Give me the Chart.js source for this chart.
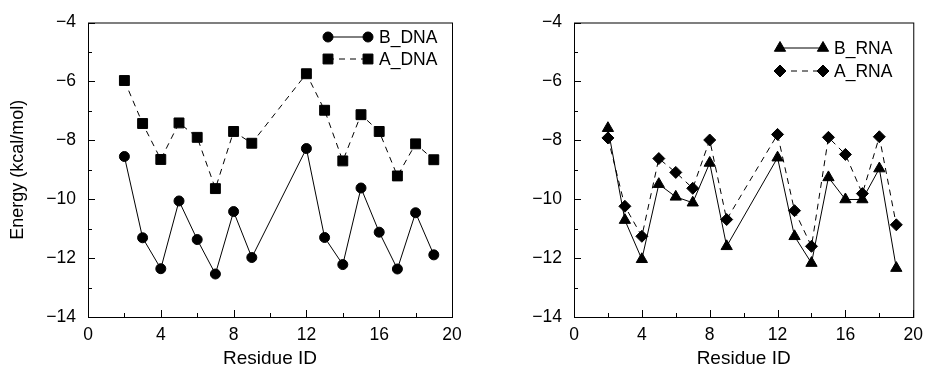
<!DOCTYPE html>
<html>
<head>
<meta charset="utf-8">
<script src="https://cdn.jsdelivr.net/npm/chart.js@4.4.0/dist/chart.umd.min.js"></script>
<style>
  html, body { margin: 0; padding: 0; background: #fff; }
  .panel { position: absolute; top: 0; height: 368px; }
</style>
</head>
<body>
<div class="panel" style="left:0;width:470px"><canvas id="dnaChart" width="470" height="368"></canvas></div>
<div class="panel" style="left:470px;width:461px"><canvas id="rnaChart" width="461" height="368"></canvas></div>
<script>
// residue numbers (10, 11 are missing in the figure)
var residueIds = [2, 3, 4, 5, 6, 7, 8, 9, 12, 13, 14, 15, 16, 17, 18, 19];

var bDNA = [-8.55, -11.31, -12.36, -10.06, -11.37, -12.54, -10.42, -11.98, -8.28, -11.30, -12.22, -9.62, -11.12, -12.37, -10.46, -11.89];
var aDNA = [-5.97, -7.43, -8.65, -7.41, -7.90, -9.64, -7.70, -8.10, -5.74, -6.98, -8.70, -7.13, -7.70, -9.21, -8.12, -8.66];
var bRNA = [-7.59, -10.71, -12.04, -9.49, -9.92, -10.12, -8.77, -11.60, -8.59, -11.26, -12.17, -9.26, -10.01, -10.01, -8.96, -12.34];
var aRNA = [-7.92, -10.24, -11.26, -8.62, -9.09, -9.63, -7.99, -10.69, -7.80, -10.39, -11.60, -7.90, -8.48, -9.81, -7.88, -10.87];

var xLabels = [0, 4, 8, 12, 16, 20];
var yLabels = [-14, -12, -10, -8, -6, -4];

var FONT = '"Liberation Sans", Arial, Helvetica, sans-serif';

function pts(vals) {
    return residueIds.map(function (r, i) { return {x: r, y: vals[i]}; });
}
function fmt(v) {
    return String(v).replace('-', '\u2212');
}

// box around plot, inward ticks and the little legend inside the plot
var framePlugin = {
    id: 'frame',
    afterDraw: function (chart, args, opts) {
        var ctx = chart.ctx, a = chart.chartArea;
        var xs = chart.scales.x, ys = chart.scales.y;
        ctx.save();
        ctx.strokeStyle = '#000';
        ctx.lineWidth = 1;
        ctx.strokeRect(a.left + 0.5, a.top + 0.5, a.right - a.left, a.bottom - a.top);
        ctx.beginPath();
        xs.ticks.forEach(function (t) {
            var px = Math.round(xs.getPixelForValue(t.value)) + 0.5;
            var len = xLabels.indexOf(t.value) >= 0 ? 7 : 4;
            ctx.moveTo(px, a.bottom);
            ctx.lineTo(px, a.bottom - len);
        });
        ys.ticks.forEach(function (t) {
            var py = Math.round(ys.getPixelForValue(t.value)) + 0.5;
            var len = yLabels.indexOf(t.value) >= 0 ? 7 : 4;
            ctx.moveTo(a.left, py);
            ctx.lineTo(a.left + len, py);
        });
        ctx.stroke();

        // legend
        var lg = opts.legend;
        chart.data.datasets.forEach(function (ds, i) {
            var y = lg.y + i * lg.gap;
            ctx.strokeStyle = '#000';
            ctx.fillStyle = '#000';
            ctx.lineWidth = 1;
            ctx.setLineDash(ds.borderDash || []);
            ctx.beginPath();
            ctx.moveTo(lg.x, y);
            ctx.lineTo(lg.x + lg.len, y);
            ctx.stroke();
            ctx.setLineDash([]);
            [lg.x, lg.x + lg.len].forEach(function (px) {
                Chart.helpers.drawPoint(ctx, {pointStyle: ds.pointStyle, radius: ds.pointRadius, rotation: 0, borderWidth: 1}, px, y);
            });
            ctx.font = '17.5px ' + FONT;
            ctx.textBaseline = 'middle';
            ctx.textAlign = 'left';
            ctx.fillText(ds.label, lg.x + lg.len + 11, y + 1);
        });
        ctx.restore();
    }
};

function makeChart(id, sets, opt) {
    var datasets = sets.map(function (s) {
        return {
            label: s.label,
            data: pts(s.data),
            showLine: true,
            borderColor: '#000',
            backgroundColor: '#000',
            borderWidth: 1,
            borderDash: s.dash,
            pointStyle: s.style,
            pointRadius: s.radius,
            pointHoverRadius: s.radius,
            pointBorderWidth: 1
        };
    });
    return new Chart(document.getElementById(id).getContext('2d'), {
        type: 'scatter',
        data: {datasets: datasets},
        options: {
            responsive: false,
            animation: false,
            devicePixelRatio: 1,
            layout: {padding: {top: 16, right: opt.padRight, bottom: 0, left: 0}},
            plugins: {
                legend: {display: false},
                tooltip: {enabled: false},
                frame: {legend: opt.legend}
            },
            scales: {
                x: {
                    type: 'linear',
                    min: 0, max: 20,
                    grid: {display: false, drawTicks: false},
                    border: {display: false},
                    ticks: {
                        stepSize: 2, autoSkip: false, padding: 8, color: '#000',
                        font: {family: FONT, size: 17.5},
                        callback: function (v) { return xLabels.indexOf(v) >= 0 ? fmt(v) : ''; }
                    },
                    title: {
                        display: true, text: 'Residue ID', color: '#000',
                        font: {family: FONT, size: 19, lineHeight: 1}, padding: {top: 0, bottom: 0}
                    },
                    afterFit: function (s) { s.height = 51; }
                },
                y: {
                    type: 'linear',
                    min: -14, max: -4,
                    grid: {display: false, drawTicks: false},
                    border: {display: false},
                    ticks: {
                        stepSize: 1, autoSkip: false, padding: 12, color: '#000',
                        font: {family: FONT, size: 17.5},
                        callback: function (v) { return yLabels.indexOf(v) >= 0 ? fmt(v) : ''; }
                    },
                    title: {
                        display: opt.yTitle, text: 'Energy (kcal/mol)', color: '#000',
                        font: {family: FONT, size: 18}, padding: {top: 7, bottom: 0}
                    },
                    afterFit: function (s) { s.width = opt.yWidth; }
                }
            }
        },
        plugins: [framePlugin]
    });
}

makeChart('dnaChart', [
    {label: 'B_DNA', data: bDNA, style: 'circle', radius: 5, dash: []},
    {label: 'A_DNA', data: aDNA, style: 'rect', radius: 7, dash: [6, 5]}
], {padRight: 18, yWidth: 88, yTitle: true, legend: {x: 328, y: 37, gap: 22, len: 40}});

makeChart('rnaChart', [
    {label: 'B_RNA', data: bRNA, style: 'triangle', radius: 6.5, dash: []},
    {label: 'A_RNA', data: aRNA, style: 'rectRot', radius: 6, dash: [6, 5]}
], {padRight: 11, yWidth: 104, yTitle: false, legend: {x: 310, y: 48, gap: 23, len: 43}});
</script>
</body>
</html>
